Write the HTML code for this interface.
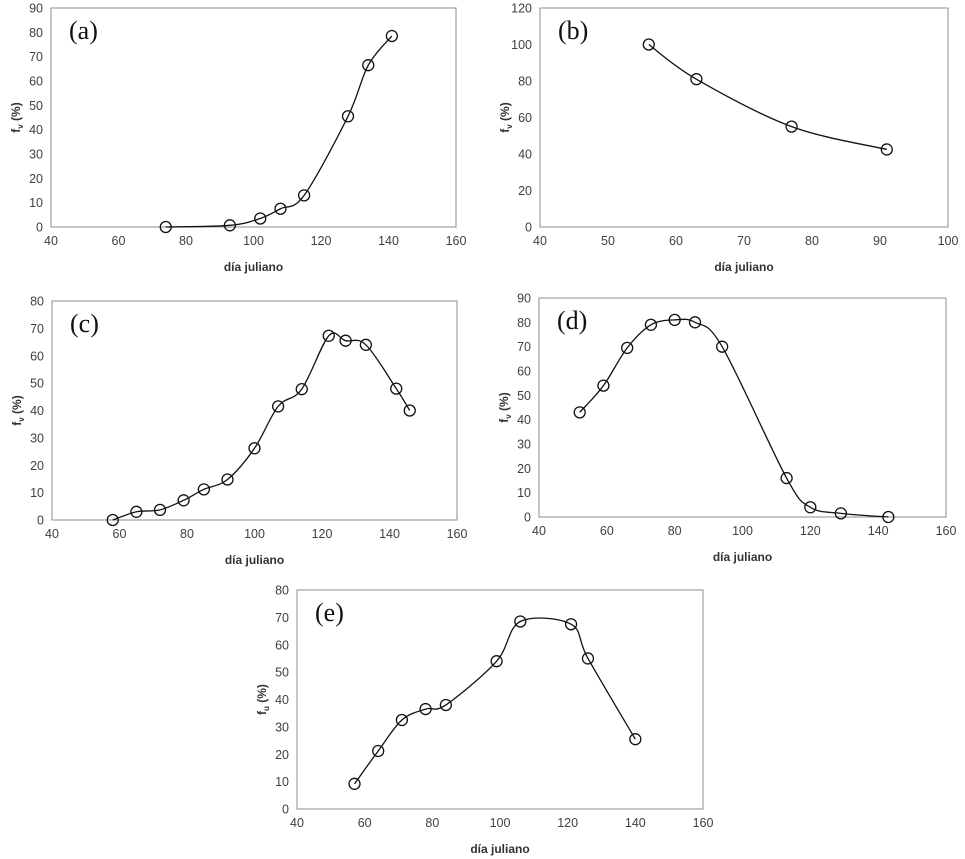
<!DOCTYPE html>
<html><head><meta charset="utf-8"><style>
body{margin:0;background:#fff}
svg{display:block}
text{font-family:"Liberation Sans",sans-serif}
</style></head><body>
<svg id="fig" width="965" height="859"></svg>
<script>
const aX=[74,93,102,108,115,128,134,141];
const aY=[0,0.7,3.5,7.5,13,45.5,66.5,78.5];
const bX=[56,63,77,91];
const bY=[100,81,55,42.5];
const cX=[58,65,72,79,85,92,100,107,114,122,127,133,142,146];
const cY=[0,3,3.7,7.2,11.2,14.8,26.2,41.5,47.8,67.3,65.5,64,48,40];
const dX=[52,59,66,73,80,86,94,113,120,129,143];
const dY=[43,54,69.5,79,81,80,70,16,4,1.5,0];
const eX=[57,64,71,78,84,99,106,121,126,140];
const eY=[9.2,21.2,32.5,36.5,38,54,68.5,67.5,55,25.5];
const xTicksA=[40,60,80,100,120,140,160];
const xTicksB=[40,50,60,70,80,90,100];
const yTicks90=[0,10,20,30,40,50,60,70,80,90];
const yTicks120=[0,20,40,60,80,100,120];
const yTicks80=[0,10,20,30,40,50,60,70,80];

const NS="http://www.w3.org/2000/svg";
const svg=document.getElementById('fig');
function mk(tag,attrs,parent,txt){const e=document.createElementNS(NS,tag);for(const k in attrs)e.setAttribute(k,attrs[k]);if(txt!==undefined)e.textContent=txt;parent.appendChild(e);return e;}

function panel(id,box,xt,yt,xs,ys,label,sub){
  const [L,T,R,B]=box;
  const g=mk('g',{},svg);
  
  
  const x0=xt[0],x1=xt[xt.length-1],y0=yt[0],y1=yt[yt.length-1];
  const sx=v=>L+(v-x0)/(x1-x0)*(R-L);
  const sy=v=>B-(v-y0)/(y1-y0)*(B-T);
  const fr=mk('rect',{x:L,y:T,width:R-L,height:B-T,fill:'none',stroke:'#8c8c8c','stroke-width':1},g);
  
  
  xt.forEach(v=>{const t=mk('text',{x:sx(v),y:B+18,'font-size':12.5,fill:'#404040','text-anchor':'middle'},g,v);
    
    });
  yt.forEach(v=>{const t=mk('text',{x:L-8,y:sy(v)+4.5,'font-size':12.5,fill:'#404040','text-anchor':'end'},g,v);
    
    });
  const xtit=mk('text',{x:(L+R)/2,y:B+44,'font-size':12,'font-weight':'bold',fill:'#333','text-anchor':'middle'},g,'día juliano');
  
  
  const cy=(T+B)/2, cx=L-31;
  const yt2=mk('text',{x:cx,y:cy,'font-size':12,'font-weight':'bold',fill:'#333','text-anchor':'middle',transform:`rotate(-90 ${cx} ${cy})`},g);
  
  
  mk('tspan',{},yt2,'f');
  mk('tspan',{'font-size':8,dy:3},yt2,sub);
  mk('tspan',{dy:-3},yt2,' (%)');
  const lb=mk('text',{x:L+18,y:T+31,fill:'#111',style:'font-family:"Liberation Serif",serif;font-size:26px'},g,label);
  
  
  const P=xs.map((v,i)=>[sx(v),sy(ys[i])]);
  let d=`M${P[0][0]},${P[0][1]}`;
  for(let i=0;i<P.length-1;i++){
    const p0=P[i-1]||P[i],p1=P[i],p2=P[i+1],p3=P[i+2]||P[i+1];
    const k=6;
    d+=` C${p1[0]+(p2[0]-p0[0])/k},${p1[1]+(p2[1]-p0[1])/k} ${p2[0]-(p3[0]-p1[0])/k},${p2[1]-(p3[1]-p1[1])/k} ${p2[0]},${p2[1]}`;
  }
  const ln=mk('path',{d:d,fill:'none',stroke:'#111','stroke-width':1.3},g);
  
  
  P.forEach(p=>{const c=mk('circle',{cx:p[0],cy:p[1],r:5.5,fill:'none',stroke:'#111','stroke-width':1.3},g);
    
    });
}
panel('a',[51,8,456,227],xTicksA,yTicks90,aX,aY,'(a)','v');
panel('b',[540,8,948,227],xTicksB,yTicks120,bX,bY,'(b)','v');
panel('c',[52,301,457,520],xTicksA,yTicks80,cX,cY,'(c)','v');
panel('d',[539,298,946,517],xTicksA,yTicks90,dX,dY,'(d)','v');
panel('e',[297,590,703,809],xTicksA,yTicks80,eX,eY,'(e)','u');
</script>
</body></html>
